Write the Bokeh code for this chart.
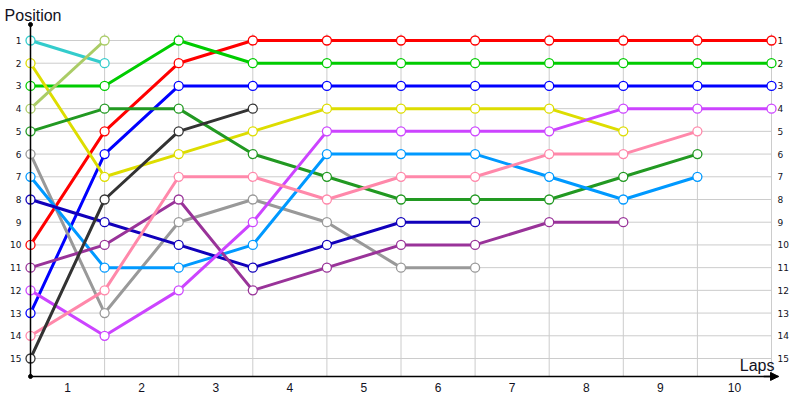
from bokeh.plotting import figure
from bokeh.models import (Range1d, LinearAxis, FixedTicker, Label, Arrow, NormalHead)
from bokeh.embed import file_html
from bokeh.resources import INLINE

# ---- data ----
laps = [1, 2, 3, 4, 5, 6, 7, 8, 9, 10]          # lap labels
lap_labels = [str(l) for l in laps]
boundaries = [0, 1, 2, 3, 4, 5, 6, 7, 8, 9, 10]   # x positions of the points
positions = list(range(1, 16))                     # grid positions

red        = [10, 5, 2, 1, 1, 1, 1, 1, 1, 1, 1]
green      = [3, 3, 1, 2, 2, 2, 2, 2, 2, 2, 2]
blue       = [13, 6, 3, 3, 3, 3, 3, 3, 3, 3, 3]
cyan       = [1, 2]
olive      = [4, 1]
yellow     = [2, 7, 6, 5, 4, 4, 4, 4, 5]
dark_green = [5, 4, 4, 6, 7, 8, 8, 8, 7, 6]
gray       = [6, 13, 9, 8, 9, 11, 11]
light_blue = [7, 11, 11, 10, 6, 6, 6, 7, 8, 7]
navy       = [8, 9, 10, 11, 10, 9, 9]
purple     = [11, 10, 8, 12, 11, 10, 10, 9, 9]
magenta    = [12, 14, 12, 9, 5, 5, 5, 5, 4, 4, 4]
pink       = [14, 12, 7, 7, 8, 7, 7, 6, 6, 5]
charcoal   = [15, 8, 5, 4]

series = [
    (red, "#ff0000"), (green, "#00cc00"), (blue, "#0000ff"),
    (cyan, "#33cccc"), (yellow, "#dddd00"), (olive, "#aacc66"),
    (dark_green, "#229922"), (gray, "#999999"), (light_blue, "#0099ff"),
    (navy, "#1100bb"), (purple, "#993399"), (magenta, "#cc44ff"),
    (pink, "#ff88aa"), (charcoal, "#333333"),
]

# ---- geometry ----
W, H = 800, 400
x_start, x_end = -0.4049, 10.3914
y_top, y_bottom = -0.761, 16.849
axis_top, axis_bottom = 0.296, 15.79
axis_right = 10.095
grid_top = 0.7

p = figure(width=W, height=H, output_backend="svg", toolbar_location=None,
           x_range=Range1d(x_start, x_end), y_range=Range1d(y_bottom, y_top),
           min_border=0, min_border_left=0, min_border_right=0,
           min_border_top=0, min_border_bottom=0,
           x_axis_location=None, y_axis_location=None)
p.outline_line_color = None
p.xgrid.visible = False
p.ygrid.visible = False
p.background_fill_color = "white"

# grid lines
p.segment(x0=[boundaries[0]] * len(positions), x1=[boundaries[-1]] * len(positions),
          y0=positions, y1=positions, line_color="#cccccc", line_width=1)
p.segment(x0=boundaries[1:], x1=boundaries[1:], y0=[grid_top] * (len(boundaries) - 1),
          y1=[axis_bottom] * (len(boundaries) - 1), line_color="#cccccc", line_width=1)

# axes
tick_font = "DejaVu Sans"
left = LinearAxis(fixed_location=0, ticker=FixedTicker(ticks=positions),
                  bounds=(axis_top, axis_bottom))
left.axis_line_color = "black"
left.axis_line_width = 1.5
left.major_tick_line_color = None
left.minor_tick_line_color = None
left.major_tick_out = 0
left.major_tick_in = 0
left.major_label_standoff = 9
left.major_label_text_font = tick_font
left.major_label_text_font_size = "9px"
left.major_label_text_color = "#111122"
p.add_layout(left, "left")

right = LinearAxis(fixed_location=boundaries[-1], ticker=FixedTicker(ticks=positions))
right.axis_line_color = None
right.major_tick_line_color = None
right.minor_tick_line_color = None
right.major_tick_out = 0
right.major_tick_in = 0
right.major_label_standoff = 6
right.major_label_text_font = tick_font
right.major_label_text_font_size = "9px"
right.major_label_text_color = "#111122"
p.add_layout(right, "right")

bottom = LinearAxis(fixed_location=axis_bottom,
                    ticker=FixedTicker(ticks=[l - 0.5 for l in laps]),
                    bounds=(0, axis_right))
bottom.major_label_overrides = {l - 0.5: s for l, s in zip(laps, lap_labels)}
bottom.axis_line_color = "black"
bottom.axis_line_width = 1.5
bottom.major_tick_line_color = None
bottom.minor_tick_line_color = None
bottom.major_tick_out = 0
bottom.major_tick_in = 0
bottom.major_label_standoff = 7
bottom.major_label_text_font = "Liberation Sans"
bottom.major_label_text_font_size = "12px"
bottom.major_label_text_color = "#111122"
p.add_layout(bottom, "below")

# arrow head on x axis
p.add_layout(Arrow(x_start=axis_right - 0.2, y_start=axis_bottom, x_end=axis_right,
                   y_end=axis_bottom, line_color="black", line_width=1.5,
                   end=NormalHead(size=8, fill_color="black", line_color="black")))

# axis end dots
p.scatter(x=[0, 0], y=[axis_top, axis_bottom], size=4, color="black")

# series lines
for vals, col in series:
    p.line(x=boundaries[:len(vals)], y=vals, line_color=col, line_width=3)
for vals, col in series:
    p.scatter(x=boundaries[:len(vals)], y=vals, size=9, fill_color="white",
              line_color=col, line_width=1.3)

# axis titles
p.add_layout(Label(x=x_start + 0.055, y=-0.49, text="Position", text_baseline="top",
                   text_font="Liberation Sans", text_font_size="16px",
                   text_color="#111122"))
p.add_layout(Label(x=10.04, y=15.3, text="Laps", text_align="right",
                   text_baseline="alphabetic", text_font="Liberation Sans",
                   text_font_size="16px", text_color="#111122"))

open("out.html", "w").write(file_html(p, INLINE))
